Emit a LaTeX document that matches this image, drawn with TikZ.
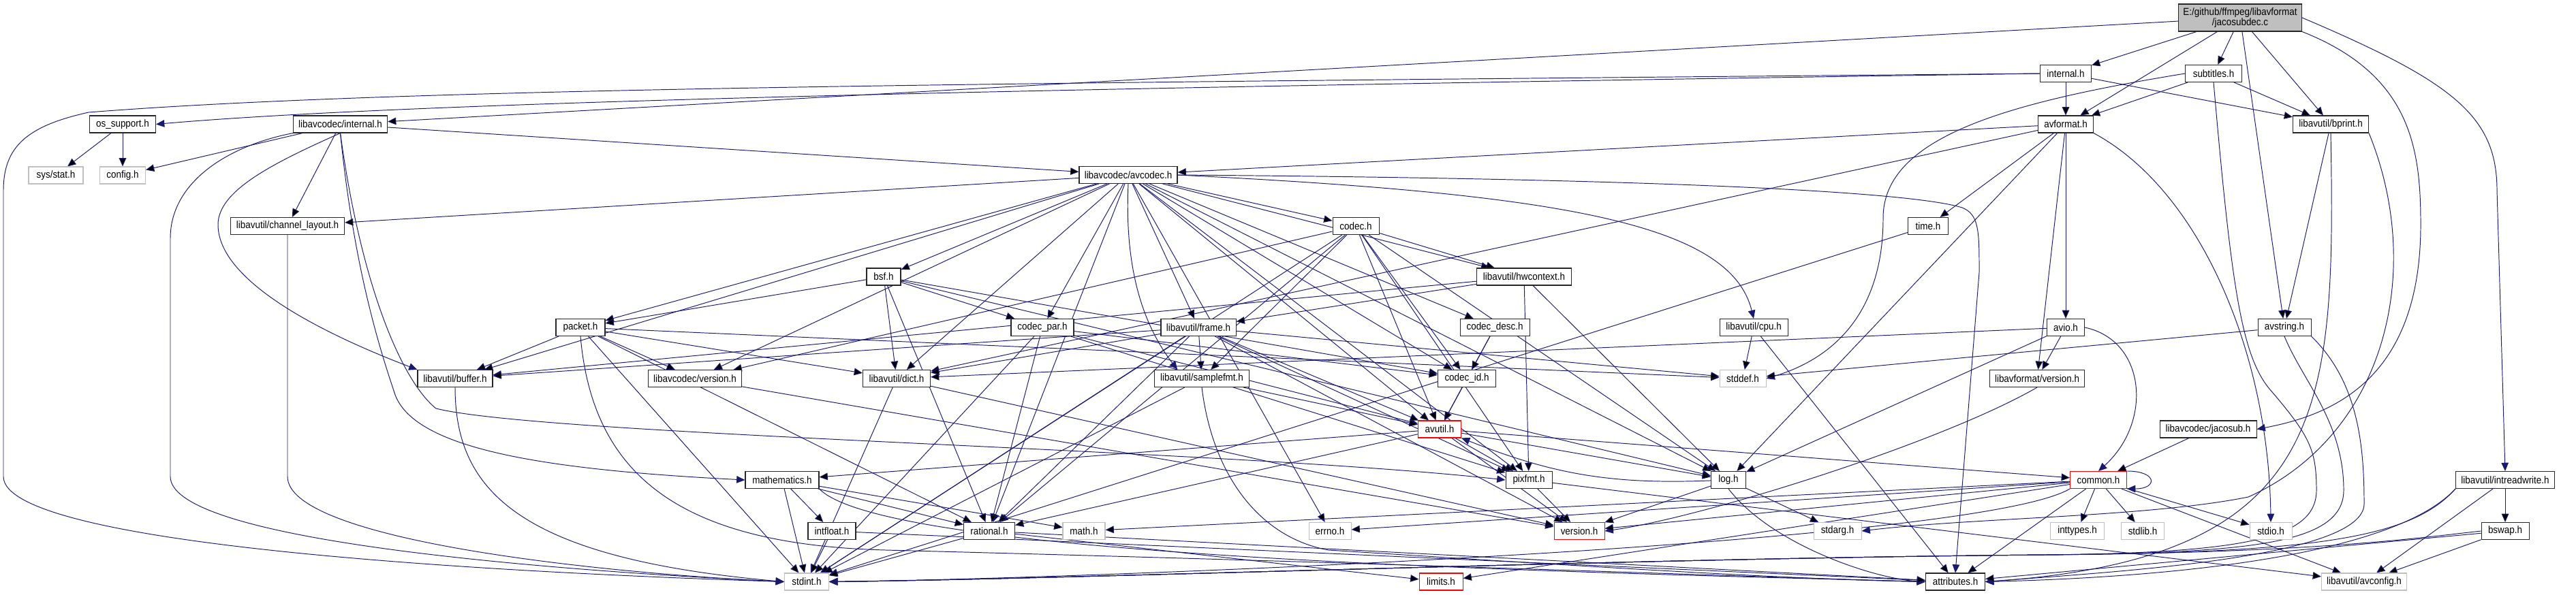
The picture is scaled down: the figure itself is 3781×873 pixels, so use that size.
\documentclass[tikz,border=0pt]{standalone}
\usepackage{fontspec}
\setmainfont{Liberation Sans}[FakeStretch=0.9]
\usetikzlibrary{arrows.meta}
\definecolor{edgeblue}{HTML}{191970}
\definecolor{extgray}{HTML}{BFBFBF}
\pgfdeclarelayer{edges}
\pgfsetlayers{edges,main}

\begin{document}
\begin{tikzpicture}[x=0.02cm, y=-0.02cm,
    hdr/.style={draw=black!85, line width=0.6pt, fill=white, inner sep=0pt,
        minimum height=0.5cm, font=\fontsize{8.5}{8.6}\selectfont},
    ext/.style={hdr, draw=extgray},
    trunc/.style={hdr, draw=red},
    wd/.style={minimum width=#1*0.02cm},
    incl/.style={draw=edgeblue, line width=0.55pt, -{Triangle[length=7pt,width=6pt]}}]
    \useasboundingbox (0,0) rectangle (3781,873);

    % The source file and what it includes directly
    \node[hdr, fill=extgray, align=center, minimum height=0.8cm, wd=181] (jsd) at (3288,26)
        {E:/github/ffmpeg/libavformat\\/jacosubdec.c};
    \node[hdr, wd=75] (lfint) at (3032,108) {internal.h};
    \node[hdr, wd=83] (subt) at (3249,108) {subtitles.h};

    % Upper rows
    \node[hdr, wd=97] (ossup) at (180,182.5) {os\_support.h};
    \node[hdr, wd=138] (lcint) at (499.5,182.5) {libavcodec/internal.h};
    \node[hdr, wd=81] (avfmt) at (3032,182.5) {avformat.h};
    \node[hdr, wd=111] (bprint) at (3421,182.5) {libavutil/bprint.h};
    \node[ext, wd=80] (sysstat) at (82,257.5) {sys/stat.h};
    \node[ext, wd=67] (config) at (180,257.5) {config.h};
    \node[hdr, wd=144] (avcodec) at (1656,257) {libavcodec/avcodec.h};
    \node[hdr, wd=167] (chlayout) at (422,332) {libavutil/channel\_layout.h};
    \node[hdr, wd=68] (codec) at (1990,332) {codec.h};
    \node[hdr, wd=59] (time) at (2830,332) {time.h};
    \node[hdr, wd=50] (bsf) at (1297,406.5) {bsf.h};
    \node[hdr, wd=139] (hwctx) at (2237,406.5) {libavutil/hwcontext.h};

    % Middle rows
    \node[hdr, wd=72] (packet) at (852,481) {packet.h};
    \node[hdr, wd=92] (codecpar) at (1530,481) {codec\_par.h};
    \node[hdr, wd=110] (frame) at (1759,481) {libavutil/frame.h};
    \node[hdr, wd=102] (codecdesc) at (2194,481) {codec\_desc.h};
    \node[hdr, wd=100] (cpu) at (2574,481) {libavutil/cpu.h};
    \node[hdr, wd=55] (avio) at (3032,481) {avio.h};
    \node[hdr, wd=78] (avstring) at (3353,481) {avstring.h};
    \node[hdr, wd=110] (buffer) at (668,556) {libavutil/buffer.h};
    \node[hdr, wd=137] (lcver) at (1020,556) {libavcodec/version.h};
    \node[hdr, wd=99] (dict) at (1316,556) {libavutil/dict.h};
    \node[hdr, wd=139] (samplefmt) at (1764,556) {libavutil/samplefmt.h};
    \node[hdr, wd=85] (codecid) at (2153,556) {codec\_id.h};
    \node[ext, wd=68] (stddef) at (2558,556) {stddef.h};
    \node[hdr, wd=139] (lfver) at (2990,556) {libavformat/version.h};
    \node[trunc, wd=63] (avutil) at (2113,630.5) {avutil.h};
    \node[hdr, wd=142] (jacosub) at (3241,630.5) {libavcodec/jacosub.h};

    % Lower rows
    \node[hdr, wd=108] (math) at (1148,705) {mathematics.h};
    \node[hdr, wd=68] (pixfmt) at (2244,705) {pixfmt.h};
    \node[hdr, wd=51] (log) at (2537,705) {log.h};
    \node[trunc, wd=83] (common) at (3080,705) {common.h};
    \node[hdr, wd=145] (intrw) at (3677,705) {libavutil/intreadwrite.h};
    \node[hdr, wd=70] (intfloat) at (1221,780) {intfloat.h};
    \node[hdr, wd=75] (rational) at (1452,780) {rational.h};
    \node[ext, wd=62] (mathh) at (1591,780) {math.h};
    \node[ext, wd=62] (errno) at (1952,780) {errno.h};
    \node[trunc, wd=74] (version) at (2318,780) {version.h};
    \node[ext, wd=70] (stdarg) at (2697,780) {stdarg.h};
    \node[ext, wd=79] (inttypes) at (3049,780) {inttypes.h};
    \node[ext, wd=63] (stdlib) at (3145,780) {stdlib.h};
    \node[ext, wd=62] (stdio) at (3333,780) {stdio.h};
    \node[hdr, wd=70] (bswap) at (3677,780) {bswap.h};
    \node[ext, wd=65] (stdint) at (1184,854.5) {stdint.h};
    \node[trunc, wd=64] (limits) at (2115,854.5) {limits.h};
    \node[hdr, wd=87] (attributes) at (2870,854.5) {attributes.h};
    \node[ext, wd=125] (avconfig) at (3470,854.5) {libavutil/avconfig.h};

    \begin{pgfonlayer}{edges}
    % jacosubdec.c
    \draw[incl] (jsd) edge (lfint) edge (avfmt) edge (subt) edge (avstring)
        edge (bprint) edge (lcint);
    \draw[incl] (jsd.south east) .. controls (3540,110) and (3553,220) .. (3553,330)
        .. controls (3553,560) and (3420,610) .. (jacosub.east);
    \draw[incl] (jsd.east) .. controls (3600,120) and (3665,170) .. (3665,280) -- (intrw.north);

    % internal.h and subtitles.h
    \draw[incl] (lfint) edge (avfmt) edge (bprint);
    \draw[incl] (lfint.west) .. controls (1500,130) and (600,150) .. (ossup.east);
    \draw[incl] (lfint.west) .. controls (1500,122) and (600,128) .. (130,165)
        .. controls (40,185) and (5,215) .. (5,280) -- (5,700)
        .. controls (5,800) and (700,840) .. (stdint.west);
    \draw[incl] (subt) edge (avfmt) edge (bprint);
    \draw[incl] (subt.west) .. controls (2950,150) and (2764,200) .. (2764,320)
        .. controls (2764,470) and (2680,530) .. (stddef.east);
    \draw[incl] (subt.south) .. controls (3275,420) and (3290,520) .. (3330,570)
        .. controls (3390,640) and (3400,660) .. (3400,720)
        .. controls (3400,790) and (3300,812) .. (3000,815)
        .. controls (2400,820) and (1600,850) .. (stdint.east);

    % os_support.h and libavcodec/internal.h
    \draw[incl] (ossup) edge (sysstat) edge (config);
    \draw[incl] (lcint) edge (avcodec) edge (config) edge (chlayout);
    \draw[incl] (lcint.south west) .. controls (330,215) and (250,270) .. (250,350) -- (250,700)
        .. controls (250,790) and (750,835) .. (stdint.west);
    \draw[incl] (lcint.south) .. controls (400,240) and (320,280) .. (320,330)
        .. controls (320,420) and (500,500) .. (buffer.north west);
    \draw[incl] (lcint.south) .. controls (520,400) and (560,520) .. (580,580)
        .. controls (610,660) and (800,690) .. (math.west);
    \draw[incl] (lcint.south) .. controls (530,420) and (590,560) .. (640,600)
        .. controls (800,640) and (1800,660) .. (pixfmt.west);
    \draw[incl] (chlayout.south) -- (422,700) .. controls (422,790) and (850,840) .. (stdint.west);

    % avformat.h and bprint.h
    \draw[incl] (avfmt) edge (avcodec) edge (time) edge (dict) edge (avio) edge (lfver) edge (log);
    \draw[incl] (avfmt.south east) .. controls (3230,280) and (3330,520) .. (stdio.north);
    \draw[incl] (bprint) edge (avstring);
    \draw[incl] (bprint.south east) .. controls (3560,400) and (3500,640) .. (3300,730)
        .. controls (3150,760) and (2900,760) .. (stdarg.east);
    \draw[incl] (bprint.south) .. controls (3428,600) and (3420,820) .. (attributes.east);

    % libavcodec/avcodec.h
    \draw[incl] (avcodec) edge (errno) edge (avutil) edge (buffer) edge (chlayout)
        edge (dict) edge (frame) edge (hwctx) edge (log) edge (pixfmt) edge (rational)
        edge (bsf) edge (codec) edge (codecdesc) edge (codecpar) edge (codecid)
        edge (packet) edge (lcver);
    \draw[incl] (avcodec.south) .. controls (1650,400) and (1680,480) .. (samplefmt.160);
    \draw[incl] (avcodec.east) .. controls (2300,285) and (2540,330) .. (cpu.north);
    \draw[incl] (avcodec.east) .. controls (2400,262) and (2800,280) .. (2880,305)
        .. controls (2905,315) and (2905,340) .. (2905,400) -- (attributes.north);

    % codec.h, time.h, bsf.h, hwcontext.h
    \draw[incl] (codec) edge (stdint) edge (avutil) edge (hwctx) edge (log) edge (pixfmt)
        edge (rational) edge (samplefmt) edge (codecid) edge (lcver);
    \draw[incl] (time) edge (stdint);
    \draw[incl] (bsf) edge (dict) edge (log) edge (rational) edge (codecid)
        edge (codecpar) edge (packet);
    \draw[incl] (hwctx) edge (buffer) edge (frame) edge (log) edge (pixfmt);

    % packet.h, codec_par.h, frame.h and their neighbours
    \draw[incl] (packet) edge (stddef) edge (stdint) edge (buffer) edge (dict)
        edge (rational) edge (lcver);
    \draw[incl] (packet.south) .. controls (870,700) and (1000,800) .. (1300,808)
        .. controls (2000,826) and (2500,845) .. (attributes.west);
    \draw[incl] (codecpar) edge (stdint) edge (avutil) edge (rational) edge (pixfmt) edge (codecid);
    \draw[incl] (frame) edge (stddef) edge (stdint) edge (avutil) edge (buffer) edge (dict)
        edge (rational) edge (samplefmt) edge (pixfmt) edge (version);
    \draw[incl] (codecdesc) edge (avutil) edge (codecid);
    \draw[incl] (codecid) edge (avutil);
    \draw[incl] (cpu) edge (stddef) edge (attributes);
    \draw[incl] (avio) edge (dict) edge (log) edge (lfver);
    \draw[incl] (avio.east) .. controls (3150,500) and (3160,620) .. (common.north);
    \draw[incl] (avstring) edge (stddef);
    \draw[incl] (avstring.south east) .. controls (3460,560) and (3470,650) .. (3470,740)
        .. controls (3470,820) and (3100,840) .. (attributes.east);
    \draw[incl] (avstring.south) .. controls (3380,560) and (3440,620) .. (3440,720)
        .. controls (3440,800) and (3300,812) .. (3000,815)
        .. controls (2400,820) and (1600,850) .. (stdint.east);

    % libavutil headers further down
    \draw[incl] (buffer.south) .. controls (668,720) and (760,820) .. (stdint.west);
    \draw[incl] (lcver) edge (version);
    \draw[incl] (dict) edge (stdint) edge (version);
    \draw[incl] (samplefmt) edge (stdint) edge (avutil);
    \draw[incl] (samplefmt.south) .. controls (1780,700) and (1850,790) .. (1950,808)
        .. controls (2300,830) and (2600,850) .. (attributes.west);
    \draw[incl] (lfver.south) .. controls (2850,650) and (2500,760) .. (version.east);
    \draw[incl] (avutil) edge (common) edge (rational) edge (version) edge (math)
        edge (log) edge (pixfmt);
    \draw[incl] (jacosub) edge (common);
    \draw[incl] (math) edge (stdint) edge (mathh) edge (rational) edge (intfloat);
    \draw[incl] (math.south east) .. controls (1300,820) and (2300,840) .. (attributes.west);
    \draw[incl] (pixfmt) edge (avconfig) edge (version);
    \draw[incl] (log) edge (stdarg) edge (version);
    \draw[incl] (log) to[bend left=12] (avutil);
    \draw[incl] (log.south) .. controls (2600,800) and (2750,850) .. (attributes.west);

    % common.h, including the loop back onto itself
    \draw[incl] (common) edge (errno) edge (inttypes) edge (limits) edge (mathh)
        edge (stdio) edge (stdlib) edge (attributes) edge (version) edge (avconfig);
    \draw[incl] (common.north east) .. controls +(45,0) and +(45,0) .. (common.south east);
    \draw[incl] (common.south west) .. controls (2900,800) and (1600,850) .. (stdint.east);

    % intreadwrite.h and bswap.h
    \draw[incl] (intrw) edge (avconfig) edge (bswap);
    \draw[incl] (intrw.south west) .. controls (3500,830) and (3100,850) .. (attributes.east);
    \draw[incl] (intrw.south west) .. controls (3540,790) and (3400,812) .. (3000,815)
        .. controls (2400,820) and (1600,850) .. (stdint.east);
    \draw[incl] (bswap) edge (avconfig) edge (attributes);
    \draw[incl] (bswap.west) .. controls (3550,790) and (3400,812) .. (3000,815)
        .. controls (2400,820) and (1600,850) .. (stdint.east);
    \draw[incl] (intfloat) edge (stdint) edge (attributes);
    \draw[incl] (rational) edge (stdint) edge (limits) edge (attributes);
    \end{pgfonlayer}
\end{tikzpicture}
\end{document}
